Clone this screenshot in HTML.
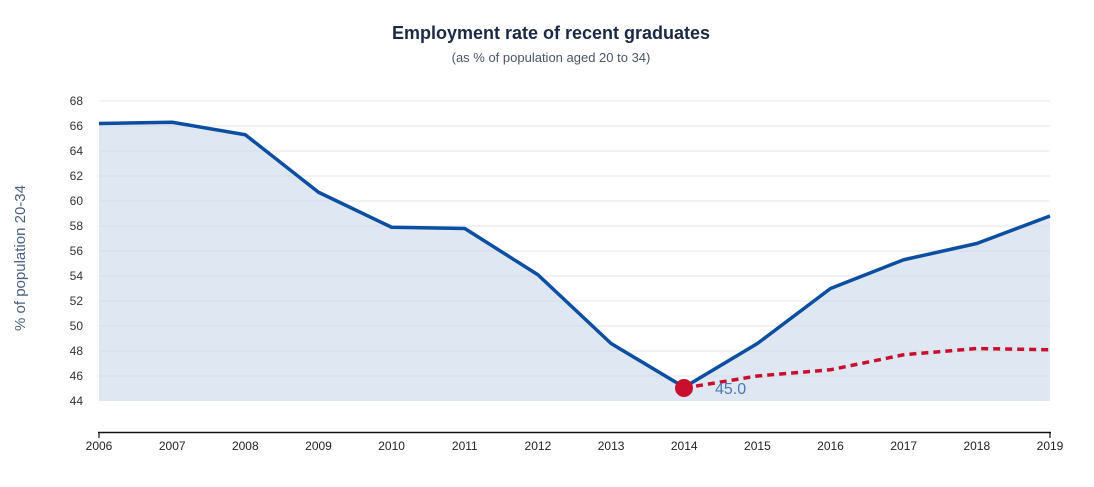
<!DOCTYPE html>
<html><head><meta charset="utf-8"><style>
html,body{margin:0;padding:0;background:#fff;}
svg text{font-family:"Liberation Sans",Arial,sans-serif;}
</style></head><body>
<svg width="1094" height="482" viewBox="0 0 1094 482" xmlns="http://www.w3.org/2000/svg">
<text x="551" y="39" text-anchor="middle" font-size="18" font-weight="bold" fill="#1a2a44">Employment rate of recent graduates</text>
<text x="551" y="62" text-anchor="middle" font-size="13" fill="#4a5568">(as % of population aged 20 to 34)</text>
<text transform="translate(25,258) rotate(-90)" text-anchor="middle" font-size="15" fill="#4a6080">% of population 20-34</text>
<g stroke="#e6e6e6" stroke-width="1">
<line x1="99" x2="1050" y1="101" y2="101"/><line x1="99" x2="1050" y1="126" y2="126"/><line x1="99" x2="1050" y1="151" y2="151"/><line x1="99" x2="1050" y1="176" y2="176"/><line x1="99" x2="1050" y1="201" y2="201"/><line x1="99" x2="1050" y1="226" y2="226"/><line x1="99" x2="1050" y1="251" y2="251"/><line x1="99" x2="1050" y1="276" y2="276"/><line x1="99" x2="1050" y1="301" y2="301"/><line x1="99" x2="1050" y1="326" y2="326"/><line x1="99" x2="1050" y1="351" y2="351"/><line x1="99" x2="1050" y1="376" y2="376"/>
</g>
<g font-size="12" fill="#333" text-anchor="end">
<text x="83" y="105">68</text><text x="83" y="130">66</text><text x="83" y="155">64</text><text x="83" y="180">62</text><text x="83" y="205">60</text><text x="83" y="230">58</text><text x="83" y="255">56</text><text x="83" y="280">54</text><text x="83" y="305">52</text><text x="83" y="330">50</text><text x="83" y="355">48</text><text x="83" y="380">46</text><text x="83" y="405">44</text>
</g>
<polygon fill="#c5d6e8" fill-opacity="0.55" points="99,401 99,123.5 172.2,122.25 245.3,134.75 318.5,192.25 391.6,227.25 464.8,228.5 537.9,274.75 611.1,343.5 684.2,387.25 757.4,343.5 830.5,288.5 903.7,259.75 976.8,243.5 1050,216 1050,401"/>
<polyline fill="none" stroke="#0b4ea2" stroke-width="3.5" stroke-linejoin="round" points="99,123.5 172.2,122.25 245.3,134.75 318.5,192.25 391.6,227.25 464.8,228.5 537.9,274.75 611.1,343.5 684.2,387.25 757.4,343.5 830.5,288.5 903.7,259.75 976.8,243.5 1050,216"/>
<polyline fill="none" stroke="#c8102e" stroke-width="3.5" stroke-dasharray="7,5" points="684.2,388 757.4,376 830.5,369.75 903.7,354.75 976.8,348.5 1050,349.75"/>
<circle cx="684" cy="388" r="9" fill="#c8102e"/>
<text x="715" y="394" font-size="16" fill="#4a78b5">45.0</text>
<line x1="98" x2="1051" y1="432.5" y2="432.5" stroke="#111" stroke-width="1.5"/>
<g stroke="#111" stroke-width="1.2">
<line x1="99" x2="99" y1="432" y2="438"/><line x1="1050" x2="1050" y1="432" y2="438"/>
</g>
<g font-size="12" fill="#222" text-anchor="middle">
<text x="99" y="450">2006</text><text x="172.2" y="450">2007</text><text x="245.3" y="450">2008</text><text x="318.5" y="450">2009</text><text x="391.6" y="450">2010</text><text x="464.8" y="450">2011</text><text x="537.9" y="450">2012</text><text x="611.1" y="450">2013</text><text x="684.2" y="450">2014</text><text x="757.4" y="450">2015</text><text x="830.5" y="450">2016</text><text x="903.7" y="450">2017</text><text x="976.8" y="450">2018</text><text x="1050" y="450">2019</text>
</g>
</svg>
</body></html>
